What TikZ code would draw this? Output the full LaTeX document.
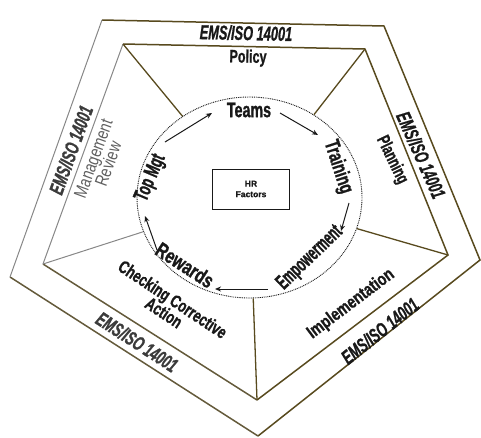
\documentclass[tikz,border=0pt]{standalone}
\usepackage{fontspec}
\setmainfont{Liberation Sans}
\newfontfamily\hvy[BoldFeatures={FakeBold=1.3}, BoldItalicFeatures={FakeBold=1.3}]{Liberation Sans}
\usepackage{graphicx}
\usetikzlibrary{shapes.geometric,arrows.meta}
\definecolor{edgeDark}{RGB}{88,74,30}
\definecolor{edgeGray}{RGB}{135,135,135}
\definecolor{txtDark}{RGB}{25,25,25}
\definecolor{txtGray}{RGB}{95,95,95}
\newcommand{\cx}[2]{\scalebox{#1}[1]{#2}}
\begin{document}
\begin{tikzpicture}[x=1pt,y=-1pt,
  ems/.style={font=\hvy\bfseries\itshape\fontsize{20}{21}\selectfont, text=txtDark, inner sep=0pt},
  midlbl/.style={font=\hvy\bfseries\fontsize{18}{19}\selectfont, text=txtDark, inner sep=0pt, align=center},
  innlbl/.style={font=\hvy\bfseries\fontsize{21}{22}\selectfont, text=txtDark, inner sep=0pt},
  edgeD/.style={draw=edgeDark, line width=1.5pt, line join=miter},
  edgeG/.style={draw=edgeGray, line width=1pt},
  spoke/.style={draw=edgeDark, line width=1.3pt},
  flow/.style={-{Stealth[length=6pt,width=5pt]}, line width=1pt, draw=txtDark}]
\useasboundingbox (0,0) rectangle (481,437);
% outer pentagon
\coordinate (o1) at (102,20);
\coordinate (o2) at (384,26);
\coordinate (o3) at (480,260);
\coordinate (o4) at (258,436);
\coordinate (o5) at (10,277);
% inner pentagon
\coordinate (i1) at (123,44);
\coordinate (i2) at (365,49);
\coordinate (i3) at (448,255);
\coordinate (i4) at (257,400);
\coordinate (i5) at (43,264);
\draw[edgeD] (o1) -- (o2) -- (o3) -- (o4);
\draw[edgeD, draw=edgeDark!70!gray] (o4) -- (o5);
\draw[edgeG] (o5) -- (o1);
\draw[edgeD] (i1) -- (i2) -- (i3) -- (i4);
\draw[edgeD, draw=edgeDark!70!gray] (i4) -- (i5);
\draw[edgeG] (i5) -- (i1);
% dotted circle
\node[ellipse, draw=txtDark, dash pattern=on 0.9pt off 0.9pt, line width=0.9pt, minimum width=225pt, minimum height=201pt, inner sep=0pt] (circ) at (249.5,197.5) {};
% spokes
\draw[spoke] (i1) -- (circ);
\draw[spoke] (i2) -- (circ);
\draw[spoke] (i3) -- (circ);
\draw[spoke] (i4) -- (circ);
\draw[edgeG] (i5) -- (circ);
% HR box
\node[draw=txtDark, line width=1pt, minimum width=77pt, minimum height=40pt, align=center,
      font=\hvy\bfseries\fontsize{8.5}{10.5}\selectfont, text=txtDark] (hr) at (251,189) {HR\\Factors};
% band labels
\node[ems, rotate=-1.2] (emsT) at (246,33) {\cx{0.64}{EMS/ISO 14001}};
\node[ems, rotate=-66] (emsR) at (421,155) {\cx{0.64}{EMS/ISO 14001}};
\node[ems, rotate=38.5] (emsBR) at (380,331) {\cx{0.64}{EMS/ISO 14001}};
\node[ems, rotate=-33, text=txtDark!85!white] (emsBL) at (137,342) {\cx{0.64}{EMS/ISO 14001}};
\node[ems, rotate=70, text=txtDark!85!white] (emsL) at (71,150) {\cx{0.64}{EMS/ISO 14001}};
% stage labels
\node[midlbl, rotate=-1] (policy) at (248,58) {\cx{0.7}{Policy}};
\node[midlbl, rotate=-64] (planning) at (392,160) {\cx{0.67}{Planning}};
\node[midlbl, rotate=37] (impl) at (351,304) {\cx{0.78}{Implementation}};
\node[midlbl, rotate=-33.5] (check) at (167,308) {\cx{0.72}{\begin{tabular}{@{}c@{}}Checking Corrective\\[-3pt]Action\end{tabular}}};
\node[midlbl, rotate=70, text=txtGray, font=\fontsize{18}{19}\selectfont] (mgmt) at (103,162) {\cx{0.78}{\begin{tabular}{@{}c@{}}Management\\[-3pt]Review\end{tabular}}};
% HR cycle labels
\node[innlbl] (teams) at (249,110) {\cx{0.68}{Teams}};
\node[innlbl, rotate=-72] (training) at (338,167) {\cx{0.67}{Training}};
\node[innlbl, rotate=44] (empow) at (310,258) {\cx{0.57}{Empowerment}};
\node[innlbl, rotate=-33] (rewards) at (185,265) {\cx{0.74}{Rewards}};
\node[innlbl, rotate=67] (topmgt) at (151,178) {\cx{0.61}{Top Mgt}};
% cycle arrows
\coordinate (a1s) at (165,142); \coordinate (a1e) at (212,113);
\coordinate (a2s) at (280,113); \coordinate (a2e) at (318,135);
\coordinate (a3s) at (349,203); \coordinate (a3e) at (341,231);
\coordinate (a4s) at (268,289); \coordinate (a4e) at (215,289);
\coordinate (a5s) at (157,250); \coordinate (a5e) at (145,216);
\draw[flow] (a1s) -- (a1e);
\draw[flow] (a2s) -- (a2e);
\draw[flow] (a3s) -- (a3e);
\draw[flow] (a4s) -- (a4e);
\draw[flow] (a5s) -- (a5e);
\end{tikzpicture}
\end{document}
